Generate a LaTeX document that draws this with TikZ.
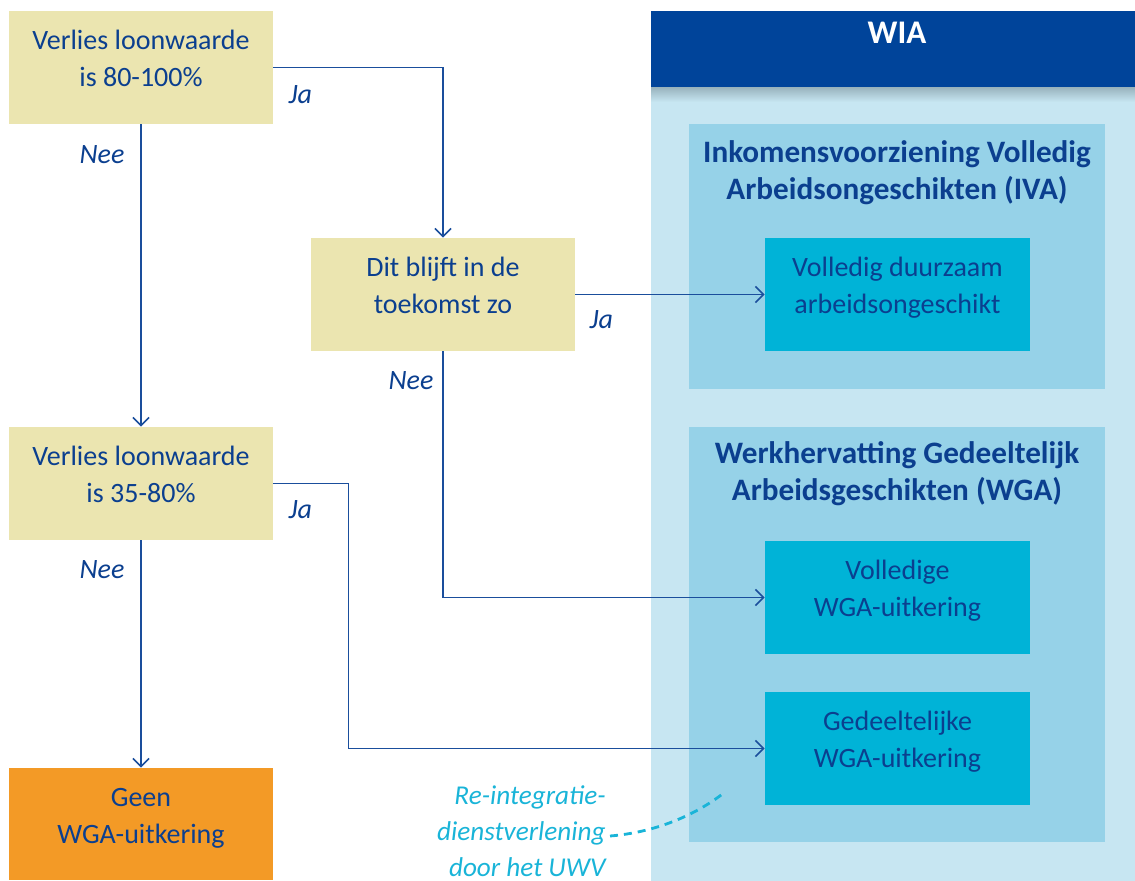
\documentclass[tikz,border=0pt]{standalone}
\usepackage{fontspec}
\setmainfont{Carlito}
\usetikzlibrary{calc}
\usetikzlibrary{arrows.meta,positioning}
\definecolor{wiablue}{HTML}{00449A}
\definecolor{textblue}{HTML}{0B3F8F}
\definecolor{lineblue}{HTML}{1A4E9C}
\definecolor{beige}{HTML}{EBE5B0}
\definecolor{geenorange}{HTML}{F39A26}
\definecolor{paleblue}{HTML}{C7E6F2}
\definecolor{shadowblue}{HTML}{97B2BC}
\definecolor{midblue}{HTML}{96D2E8}
\definecolor{cyanbox}{HTML}{00B3D7}
\definecolor{notecyan}{HTML}{19B4D8}
\newcommand\lift[1]{\raisebox{3.3pt}[\height][\depth]{\begin{tabular}{@{}c@{}}#1\end{tabular}}}

\begin{document}
\begin{tikzpicture}
    [x=0.5pt,y=-0.5pt,
     box/.style={fill=beige,text=textblue,minimum width=132pt,minimum height=56.5pt,inner sep=0pt,
                 font=\fontsize{14}{18.5}\selectfont},
     title/.style={text=textblue,align=center,font=\fontsize{15.6}{18.5}\selectfont\bfseries},
     lbl/.style={text=textblue,inner sep=0pt,font=\fontsize{14}{17}\selectfont\itshape},
     note/.style={text=notecyan,align=right,inner sep=2pt,font=\fontsize{13.6}{18}\selectfont\itshape},
     flow/.style={draw=lineblue,line width=0.8pt,-{Straight Barb[length=4pt,width=8pt]}}]

    % WIA panel
    \fill[paleblue] (651,87) rectangle (1135,881);
    \shade[top color=shadowblue,bottom color=paleblue] (651,87) rectangle (1135,102);
    \fill[wiablue] (651,11) rectangle (1135,87);
    \node[text=white,font=\fontsize{16.5}{19}\selectfont\bfseries] (wia) at (897,33) {WIA};

    \fill[midblue] (689,124) rectangle (1105,389);
    \fill[midblue] (689,427) rectangle (1105,842);
    \node[title] (iva) at (897,172.5) {Inkomensvoorziening Volledig\\Arbeidsongeschikten (IVA)};
    \node[title] (wga) at (897,474) {Werkhervatting Gedeeltelijk\\Arbeidsgeschikten (WGA)};

    % questions
    \node[box] (A) at (141,67.5) {\lift{Verlies loonwaarde\\is 80-100\%}};
    \node[box] (B) at (443,294.5) {\lift{Dit blijft in de\\toekomst zo}};
    \node[box] (C) at (141,483.5) {\lift{Verlies loonwaarde\\is 35-80\%}};
    \node[box,fill=geenorange,minimum height=56pt] (D) at (141,824) {\lift{Geen\\WGA-uitkering}};

    % outcomes
    \node[box,fill=cyanbox,minimum width=132.5pt] (vda) at (897.5,294.5) {\lift{Volledig duurzaam\\arbeidsongeschikt}};
    \node[box,fill=cyanbox,minimum width=132.5pt] (vwga) at (897.5,597.5) {\lift{Volledige\\WGA-uitkering}};
    \node[box,fill=cyanbox,minimum width=132.5pt] (gwga) at (897.5,748.5) {\lift{Gedeeltelijke\\WGA-uitkering}};

    \draw[flow] (A.east) -| (B.north);
    \draw[flow] (A.south) -- (C.north);
    \draw[flow] (B.east) -- (vda.west);
    \draw[flow] (B.south) |- (vwga.west);
    \draw[flow] (C.east) -- ++(75,0) |- (gwga.west);
    \draw[flow] (C.south) -- (D.north);

    \node[lbl] (ja1) at ($(A.east)+(27,27)$) {Ja};
    \node[lbl] (nee1) at ($(A.south)+(-39,30)$) {Nee};
    \node[lbl] (ja2) at ($(B.east)+(26,25)$) {Ja};
    \node[lbl] (nee2) at ($(B.south)+(-32,29)$) {Nee};
    \node[lbl] (ja3) at ($(C.east)+(27,26)$) {Ja};
    \node[lbl] (nee3) at ($(C.south)+(-39,29)$) {Nee};

    % re-integratie
    \node[note,anchor=east] (reint) at (610,831) {Re-integratie-\\dienstverlening\\door het UWV};
    \coordinate (reintend) at (725,792);
    \draw[notecyan,line width=1.4pt,dash pattern=on 4pt off 3pt]
        ([yshift=-2.5pt]reint.east) .. controls (660,832) and (700,812) .. (reintend);

    \pgfresetboundingbox
    \useasboundingbox (0,0) rectangle (1135,881);
\end{tikzpicture}
\end{document}
